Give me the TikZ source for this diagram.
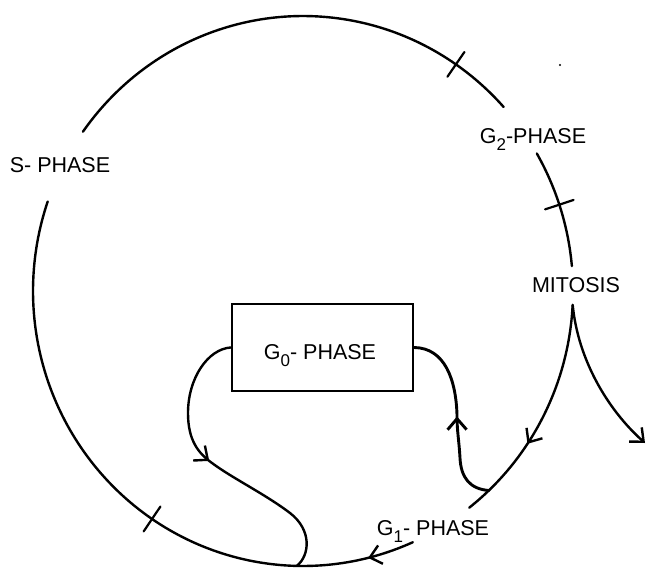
\documentclass[tikz,border=0pt]{standalone}
\usepackage{fontspec}
\setmainfont{Liberation Sans}
\usetikzlibrary{arrows.meta,decorations.markings}
\newcommand{\lowsub}[1]{\raisebox{-7pt}{\fontsize{17}{17}\selectfont #1}}
\begin{document}
\begin{tikzpicture}[x=1pt,y=-1pt,line width=2.4pt,line cap=round,
  lbl/.style={font=\fontsize{21.5}{24}\selectfont,inner sep=0pt,anchor=base},
  barbtip/.style={-{Straight Barb[length=11pt,width=19pt]}},
  midbarb/.style={postaction={decorate},decoration={markings,mark=at position #1 with {\arrow{Straight Barb[length=11pt,width=19pt]}}}},
  tick/.style={line width=2.2pt}
]
\useasboundingbox (0,0) rectangle (648,568);
% cell-cycle circle (ellipse centre (303,291), radii 270/275), drawn in four arcs
\draw[midbarb=0.63] plot[domain=2.9:52,samples=70,variable=\t] ({303+270*cos(\t)},{291+275*sin(\t)});
\draw[midbarb=0.075] plot[domain=66:199,samples=120,variable=\t] ({303+270*cos(\t)},{291+275*sin(\t)});
\draw plot[domain=215.4:318,samples=100,variable=\t] ({303+270*cos(\t)},{291+275*sin(\t)});
\draw plot[domain=330:354.8,samples=40,variable=\t] ({303+270*cos(\t)},{291+275*sin(\t)});
% ticks
\foreach \a in {124,304.5,341.7}
  \draw[tick] ({303+255*cos(\a)},{291+260*sin(\a)}) -- ({303+285*cos(\a)},{291+290*sin(\a)});
% named points
\coordinate (m) at (572.7,305);
\coordinate (j1) at (488.9,490.5);
\coordinate (j2) at (296.9,565.9);
\coordinate (out) at (645,443);
% G0 box
\node[draw,line width=2.6pt,minimum width=181pt,minimum height=87pt,inner sep=0pt] (g0) at (322.5,347.5) {};
% labels
\node[lbl] (s) at (60,172) {S- PHASE};
\node[lbl] (g2) at (533,143) {G\lowsub{2}-PHASE};
\node[lbl] (mit) at (576,292) {MITOSIS};
\node[lbl] (g0t) at (320,359) {G\lowsub{0}- PHASE};
\node[lbl] (g1) at (433,535) {G\lowsub{1}- PHASE};
% exit from mitosis
\draw[barbtip] (m) .. controls (578,360) and (608,410) .. (out);
% G0 -> circle (left loop)
\draw[midbarb=0.47] (g0.west) .. controls (208,349) and (188,378) .. (188,413)
  .. controls (188,440) and (198,453) .. (212,463)
  .. controls (232,478) and (265,494) .. (290,513)
  .. controls (312,530) and (310,555) .. (j2);
% circle -> G0 (right loop)
\draw[line width=2.9pt,midbarb=0.5] (j1) .. controls (470,489) and (461,478) .. (460,458)
  .. controls (459,440) and (457,432) .. (457,415)
  .. controls (456,380) and (445,348) .. (g0.east);
% speck
\fill (560,65) circle[radius=1.2pt];
\end{tikzpicture}
\end{document}
